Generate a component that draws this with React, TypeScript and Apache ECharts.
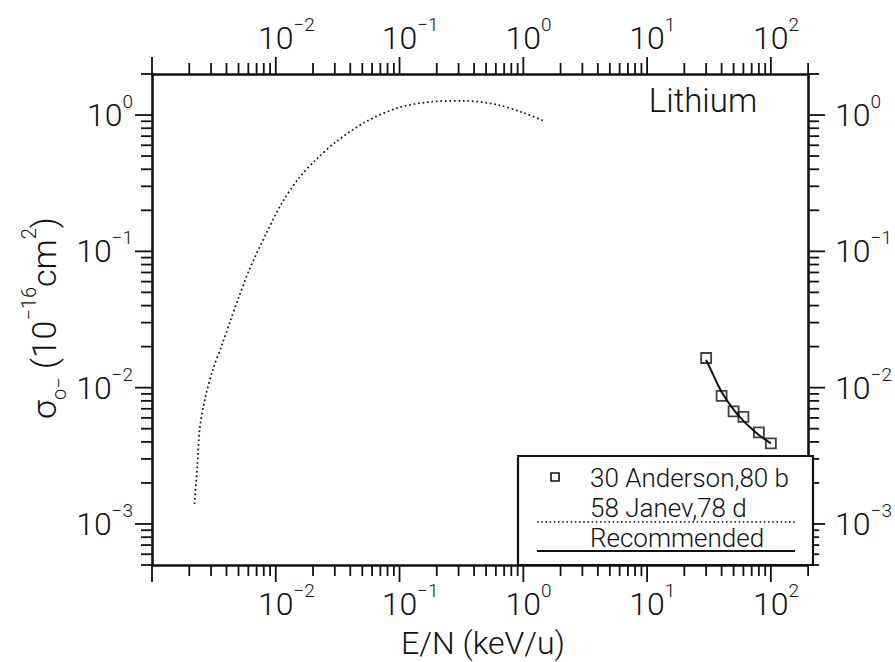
import React, { useEffect, useRef } from 'react';
import * as echarts from 'echarts';

// ---- axis ranges & tick definitions ----
const X_MIN = 1e-3;
const X_MAX = 200;
const Y_MIN = 5e-4;
const Y_MAX = 2;
const xDecades = [-3, -2, -1, 0, 1, 2];
const yDecades = [-4, -3, -2, -1, 0];
const xLabelExps = [-2, -1, 0, 1, 2];
const yLabelExps = [-3, -2, -1, 0];
const minorMultipliers = [2, 3, 4, 5, 6, 7, 8, 9];

// ---- data (E/N in keV/u, sigma in 1e-16 cm^2) ----
const janevEnergy = [0.0022, 0.00232, 0.00243, 0.0027, 0.0031, 0.0037, 0.0043, 0.005, 0.0061, 0.0084, 0.0112, 0.0154, 0.021, 0.0305, 0.053, 0.0975, 0.179, 0.336, 0.618, 1.0, 1.47];
const janevSigma = [0.0014, 0.0026, 0.005, 0.0085, 0.0135, 0.021, 0.031, 0.0455, 0.073, 0.136, 0.226, 0.345, 0.468, 0.634, 0.889, 1.13, 1.25, 1.27, 1.19, 1.04, 0.904];
const andersonEnergy = [30, 40, 50, 60, 80, 100];
const andersonSigma = [0.0165, 0.0087, 0.0067, 0.0061, 0.0047, 0.0039];
const recEnergy = [30, 35, 40, 50, 60, 70, 80, 100];
const recSigma = [0.016, 0.0119, 0.0093, 0.0069, 0.0057, 0.005, 0.0045, 0.0039];

const INK = '#111';
const FONT = 'Roboto';
const FW = 300;

function buildTicks(decades: number[], lo: number, hi: number) {
  const out: { v: number; len: number }[] = [];
  const inRange = (v: number) => v >= lo * 0.9999 && v <= hi * 1.0001;
  decades.forEach((d) => {
    const base = Math.pow(10, d);
    if (inRange(base)) out.push({ v: base, len: 17 });
    minorMultipliers.forEach((m) => {
      const v = m * base;
      if (inRange(v)) out.push({ v, len: 11 });
    });
  });
  return out;
}

function expText(e: number) {
  return e < 0 ? '\u2212' + String(-e) : String(e);
}

function powLabel(v: number, exps: number[], pad: boolean) {
  const l = Math.log10(v);
  const e = Math.round(l);
  if (Math.abs(l - e) > 1e-6 || exps.indexOf(e) < 0) return '';
  const s = expText(e);
  return (pad ? `{h|${s}}` : '') + `{b|10}{s|${s}}`;
}

const labelRich = {
  b: { fontSize: 32, fontFamily: FONT, fontWeight: FW, color: INK, lineHeight: 46 },
  s: { fontSize: 19, fontFamily: FONT, fontWeight: FW, color: INK, verticalAlign: 'top' },
  h: { fontSize: 19, fontFamily: FONT, fontWeight: FW, color: 'transparent', verticalAlign: 'top' },
};

export default function App() {
  const ref = useRef<HTMLDivElement>(null);
  useEffect(() => {
    if (!ref.current) return;
    const chart = echarts.init(ref.current, null, { renderer: 'svg' });
    const xTicks = buildTicks(xDecades, X_MIN, X_MAX);
    const yTicks = buildTicks(yDecades, Y_MIN, Y_MAX);
    const tickStyle = { stroke: INK, lineWidth: 1.8 };

    const axisCommon = {
      type: 'log',
      logBase: 10,
      axisTick: { show: false },
      minorTick: { show: false },
      splitLine: { show: false },
      minorSplitLine: { show: false },
      axisLine: { show: true, onZero: false, lineStyle: { color: INK, width: 2.6 } },
    };

    const option: any = {
      animation: false,
      backgroundColor: '#fff',
      grid: { left: 152, right: 82, top: 74, bottom: 97, containLabel: false },
      xAxis: [
        {
          ...axisCommon, position: 'bottom', min: X_MIN, max: X_MAX,
          axisLabel: { margin: 16, formatter: (v: number) => powLabel(v, xLabelExps, true), rich: labelRich },
        },
        {
          ...axisCommon, position: 'top', min: X_MIN, max: X_MAX,
          axisLabel: { margin: 13, formatter: (v: number) => powLabel(v, xLabelExps, true), rich: labelRich },
        },
      ],
      yAxis: [
        {
          ...axisCommon, position: 'left', min: Y_MIN, max: Y_MAX,
          axisLabel: { margin: 19, formatter: (v: number) => powLabel(v, yLabelExps, false), rich: labelRich },
        },
        {
          ...axisCommon, position: 'right', min: Y_MIN, max: Y_MAX,
          axisLabel: { margin: 27, formatter: (v: number) => powLabel(v, yLabelExps, false), rich: labelRich },
        },
      ],
      series: [
        {
          name: '58 Janev,78 d',
          type: 'line',
          data: janevEnergy.map((e, i) => [e, janevSigma[i]]),
          showSymbol: false,
          smooth: 0.3,
          lineStyle: { color: INK, width: 1.7, type: [1.7, 2.8] },
          z: 3,
        },
        {
          name: 'Recommended',
          type: 'line',
          data: recEnergy.map((e, i) => [e, recSigma[i]]),
          showSymbol: false,
          smooth: 0.3,
          lineStyle: { color: INK, width: 2 },
          z: 3,
        },
        {
          name: '30 Anderson,80 b',
          type: 'scatter',
          data: andersonEnergy.map((e, i) => [e, andersonSigma[i]]),
          symbol: 'rect',
          symbolSize: 10,
          itemStyle: { color: 'rgba(0,0,0,0)', borderColor: INK, borderWidth: 1.8 },
          z: 4,
        },
        {
          type: 'custom',
          xAxisIndex: 0,
          yAxisIndex: 0,
          clip: false,
          silent: true,
          z: 5,
          encode: { x: 0, y: 1 },
          data: xTicks.map((t) => [t.v, Y_MIN, t.len]),
          renderItem: (_p: any, api: any) => {
            const v = api.value(0);
            const len = api.value(2);
            const b = api.coord([v, Y_MIN]);
            const t = api.coord([v, Y_MAX]);
            return {
              type: 'group',
              children: [
                { type: 'line', shape: { x1: b[0], y1: b[1], x2: b[0], y2: b[1] + len }, style: tickStyle },
                { type: 'line', shape: { x1: t[0], y1: t[1], x2: t[0], y2: t[1] - len }, style: tickStyle },
              ],
            };
          },
        },
        {
          type: 'custom',
          xAxisIndex: 0,
          yAxisIndex: 0,
          clip: false,
          silent: true,
          z: 5,
          encode: { x: 0, y: 1 },
          data: yTicks.map((t) => [X_MIN, t.v, t.len]),
          renderItem: (_p: any, api: any) => {
            const v = api.value(1);
            const len = api.value(2);
            const l = api.coord([X_MIN, v]);
            const r = api.coord([X_MAX, v]);
            return {
              type: 'group',
              children: [
                { type: 'line', shape: { x1: l[0], y1: l[1], x2: l[0] - len, y2: l[1] }, style: tickStyle },
                { type: 'line', shape: { x1: r[0], y1: r[1], x2: r[0] + len, y2: r[1] }, style: tickStyle },
              ],
            };
          },
        },
      ],
      graphic: [
        {
          type: 'text', x: 703, y: 100,
          style: { text: 'Lithium', fontSize: 33, fontFamily: FONT, fontWeight: FW, fill: INK, align: 'center', verticalAlign: 'middle' },
        },
        {
          type: 'text', x: 483, y: 643,
          style: { text: 'E/N (keV/u)', fontSize: 32, fontFamily: FONT, fontWeight: FW, fill: INK, align: 'center', verticalAlign: 'middle' },
        },
        {
          type: 'text', x: 44, y: 318, rotation: Math.PI / 2,
          style: {
            text: '{b|\u03c3}{sub|o\u2212}{b| (10}{sup|\u221216}{b|cm}{sup|2}{b|)}',
            align: 'center', verticalAlign: 'middle', fill: INK,
            rich: {
              b: { fontSize: 34, fontFamily: FONT, fontWeight: FW, fill: INK, lineHeight: 50 },
              sup: { fontSize: 20, fontFamily: FONT, fontWeight: FW, fill: INK, verticalAlign: 'top', lineHeight: 26 },
              sub: { fontSize: 20, fontFamily: FONT, fontWeight: FW, fill: INK, verticalAlign: 'bottom', lineHeight: 22 },
            },
          },
        },
        // legend box
        {
          type: 'rect', shape: { x: 518, y: 456, width: 295, height: 109 },
          style: { fill: '#fff', stroke: INK, lineWidth: 2.2 }, z: 10,
        },
        {
          type: 'rect', shape: { x: 551, y: 473, width: 8, height: 8 },
          style: { fill: 'none', stroke: INK, lineWidth: 1.6 }, z: 11,
        },
        {
          type: 'text', x: 590, y: 478, z: 11,
          style: { text: '30 Anderson,80 b', fontSize: 26, fontFamily: FONT, fontWeight: FW, fill: INK, align: 'left', verticalAlign: 'middle' },
        },
        {
          type: 'text', x: 590, y: 508, z: 11,
          style: { text: '58 Janev,78 d', fontSize: 26, fontFamily: FONT, fontWeight: FW, fill: INK, align: 'left', verticalAlign: 'middle' },
        },
        {
          type: 'line', shape: { x1: 537, y1: 522, x2: 795, y2: 522 }, z: 11,
          style: { stroke: INK, lineWidth: 1.6, lineDash: [1.6, 2.6] },
        },
        {
          type: 'text', x: 590, y: 538, z: 11,
          style: { text: 'Recommended', fontSize: 26, fontFamily: FONT, fontWeight: FW, fill: INK, align: 'left', verticalAlign: 'middle' },
        },
        {
          type: 'line', shape: { x1: 537, y1: 551, x2: 795, y2: 551 }, z: 11,
          style: { stroke: INK, lineWidth: 2 },
        },
      ],
    };
    chart.setOption(option);
    return () => chart.dispose();
  }, []);
  return (
    <div
      ref={ref}
      style={{ position: 'fixed', left: 0, top: 0, width: 895, height: 662, background: '#fff' }}
    />
  );
}
